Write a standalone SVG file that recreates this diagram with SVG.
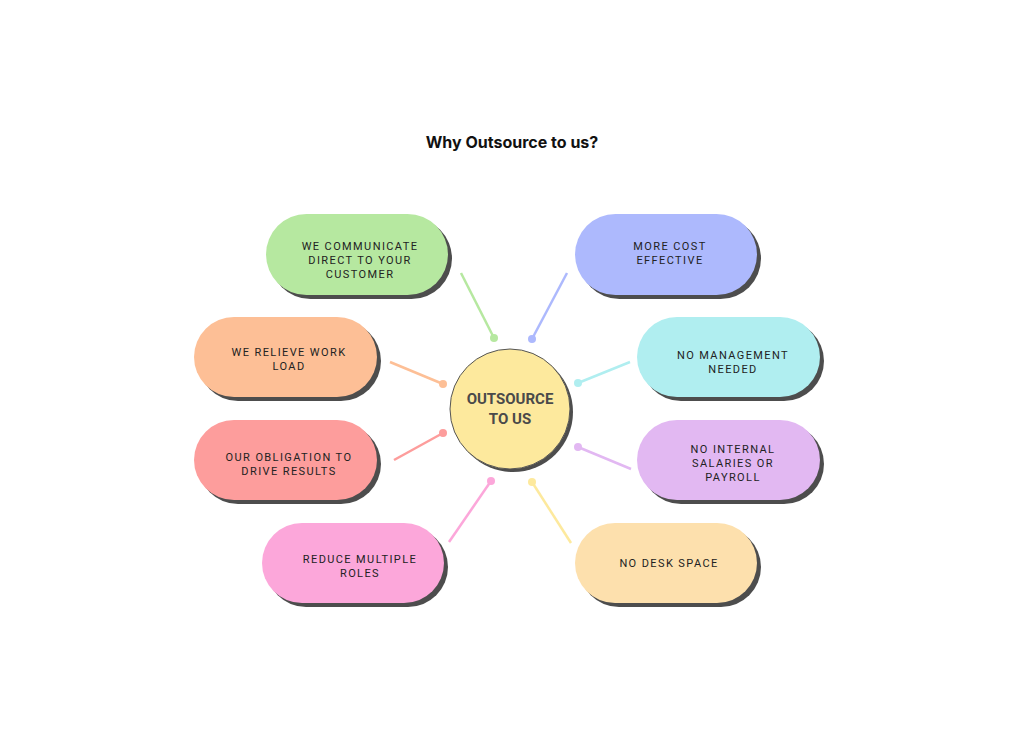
<svg xmlns="http://www.w3.org/2000/svg" width="1024" height="742" viewBox="0 0 1024 742">
<style>
.sh{fill:#4d4d4d}
.t{font-family:Roboto,"Liberation Sans",sans-serif;font-size:11px;letter-spacing:1.4px;fill:#222;text-anchor:middle;font-weight:400}
.c{stroke-width:2.5;fill:none}
</style>
<rect width="1024" height="742" fill="#ffffff"/>
<text x="512" y="148" font-family="Inter,'Liberation Sans',sans-serif" font-size="16" font-weight="700" text-anchor="middle" fill="#111">Why Outsource to us?</text>
<g id="connectors">
<line class="c" x1="461" y1="273" x2="494" y2="338" stroke="#b6e8a0"/><circle cx="494" cy="338" r="4" fill="#b6e8a0"/>
<line class="c" x1="567" y1="273" x2="532" y2="339" stroke="#adb9fd"/><circle cx="532" cy="339" r="4" fill="#adb9fd"/>
<line class="c" x1="390" y1="362" x2="443" y2="384" stroke="#fdbf96"/><circle cx="443" cy="384" r="4" fill="#fdbf96"/>
<line class="c" x1="394" y1="460" x2="443" y2="433" stroke="#fd9d9c"/><circle cx="443" cy="433" r="4" fill="#fd9d9c"/>
<line class="c" x1="630" y1="362" x2="578" y2="383" stroke="#b0eef0"/><circle cx="578" cy="383" r="4" fill="#b0eef0"/>
<line class="c" x1="631" y1="469" x2="578" y2="447" stroke="#e2b8f2"/><circle cx="578" cy="447" r="4" fill="#e2b8f2"/>
<line class="c" x1="449" y1="542" x2="491" y2="481" stroke="#fca7da"/><circle cx="491" cy="481" r="4" fill="#fca7da"/>
<line class="c" x1="571" y1="543" x2="532" y2="482" stroke="#fde99d"/><circle cx="532" cy="482" r="4" fill="#fde99d"/>
</g>
<g id="center">
<circle cx="513" cy="412" r="60" class="sh"/>
<circle cx="510" cy="409" r="60" fill="#fde99d" stroke="#555" stroke-width="1"/>
<text x="510" y="404" font-family="Roboto,'Liberation Sans',sans-serif" font-size="15" font-weight="700" fill="#4a4a4a" text-anchor="middle">OUTSOURCE</text>
<text x="510" y="424" font-family="Roboto,'Liberation Sans',sans-serif" font-size="15" font-weight="700" fill="#4a4a4a" text-anchor="middle">TO US</text>
</g>
<g id="n-communicate">
<rect x="270" y="218" width="182" height="81" rx="40.5" class="sh"/>
<rect x="266" y="214" width="182" height="81" rx="40.5" fill="#b6e8a0"/>
<text class="t" x="360" y="250">WE COMMUNICATE</text>
<text class="t" x="360" y="264">DIRECT TO YOUR</text>
<text class="t" x="360" y="278">CUSTOMER</text>
</g>
<g id="n-cost">
<rect x="579" y="218" width="182" height="81" rx="40.5" class="sh"/>
<rect x="575" y="214" width="182" height="81" rx="40.5" fill="#adb9fd"/>
<text class="t" x="670" y="250">MORE COST</text>
<text class="t" x="670" y="264">EFFECTIVE</text>
</g>
<g id="n-workload">
<rect x="198" y="321" width="183" height="80" rx="40" class="sh"/>
<rect x="194" y="317" width="183" height="80" rx="40" fill="#fdbf96"/>
<text class="t" x="289" y="356">WE RELIEVE WORK</text>
<text class="t" x="289" y="370">LOAD</text>
</g>
<g id="n-management">
<rect x="641" y="321" width="183" height="80" rx="40" class="sh"/>
<rect x="637" y="317" width="183" height="80" rx="40" fill="#b0eef0"/>
<text class="t" x="733" y="359">NO MANAGEMENT</text>
<text class="t" x="733" y="373">NEEDED</text>
</g>
<g id="n-obligation">
<rect x="198" y="424" width="183" height="80" rx="40" class="sh"/>
<rect x="194" y="420" width="183" height="80" rx="40" fill="#fd9d9c"/>
<text class="t" x="289" y="461">OUR OBLIGATION TO</text>
<text class="t" x="289" y="475">DRIVE RESULTS</text>
</g>
<g id="n-salaries">
<rect x="641" y="424" width="183" height="80" rx="40" class="sh"/>
<rect x="637" y="420" width="183" height="80" rx="40" fill="#e2b8f2"/>
<text class="t" x="733" y="453">NO INTERNAL</text>
<text class="t" x="733" y="467">SALARIES OR</text>
<text class="t" x="733" y="481">PAYROLL</text>
</g>
<g id="n-roles">
<rect x="266" y="527" width="182" height="80" rx="40" class="sh"/>
<rect x="262" y="523" width="182" height="80" rx="40" fill="#fca7da"/>
<text class="t" x="360" y="563">REDUCE MULTIPLE</text>
<text class="t" x="360" y="577">ROLES</text>
</g>
<g id="n-desk">
<rect x="579" y="527" width="182" height="80" rx="40" class="sh"/>
<rect x="575" y="523" width="182" height="80" rx="40" fill="#fde0ad"/>
<text class="t" x="669" y="567">NO DESK SPACE</text>
</g>
</svg>
